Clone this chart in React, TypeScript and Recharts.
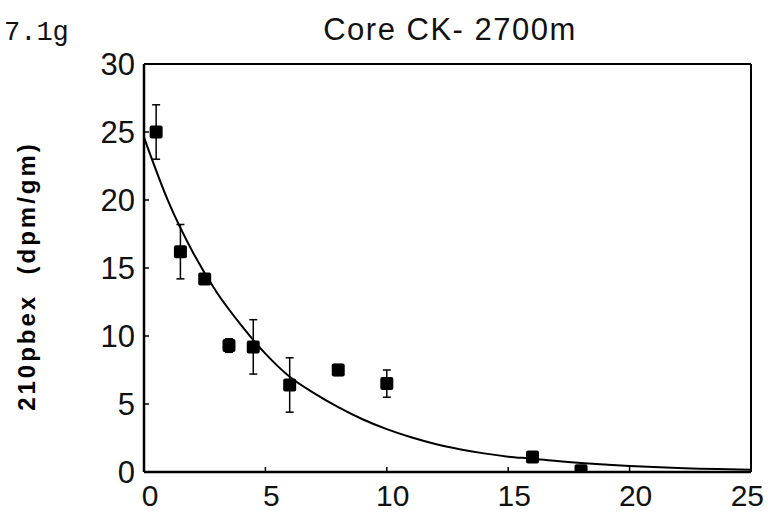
import { ComposedChart, Line, Scatter, ErrorBar, XAxis, YAxis, ReferenceLine } from 'recharts';

// measured points (depth cm, 210Pb excess dpm/gm)
const depth = [0.5, 1.5, 2.5, 3.5, 4.5, 6, 8, 10, 16, 18];
const activity = [25, 16.2, 14.2, 9.3, 9.2, 6.4, 7.5, 6.5, 1.1, 0.1];
const activityErr = [2, 2, 0.3, 0.5, 2, 2, 0.4, 1, 0, 0];

// fitted decay curve
const fitDepth = [0, 1, 2, 3, 4, 5, 6, 7, 8, 9, 10, 11, 12, 13, 14, 15, 16, 17, 18, 19, 20, 22, 25];
const fitActivity = [
  24.6, 19.9, 16.2, 13.2, 10.8, 8.7, 7.0, 5.8, 4.77, 3.88, 3.15, 2.55, 2.06, 1.68, 1.37, 1.13, 0.98, 0.8, 0.66, 0.55,
  0.45, 0.3, 0.17,
];

const xTicks = [0, 5, 10, 15, 20, 25];
const yTicks = [0, 5, 10, 15, 20, 25, 30];

const TICK_FONT = "'Liberation Sans', Arial, sans-serif";

const points = depth.map((x, i) => ({ x, y: activity[i], err: activityErr[i] }));
const fit = fitDepth.map((x, i) => ({ x, fit: fitActivity[i] }));

const Square = (props: any) => {
  const { cx, cy } = props;
  if (cx == null || cy == null) return null;
  return <rect x={cx - 6.5} y={cy - 6.5} width={13} height={13} rx={2} fill="#000" />;
};

// x labels sit a little right of their ticks in the original; the last one is kept inside the frame
const XTick = (props: any) => {
  const { x, y, payload } = props;
  const last = payload.value === xTicks[xTicks.length - 1];
  return (
    <text
      x={last ? x + 13 : x + 6}
      y={y}
      dy="0.71em"
      textAnchor={last ? 'end' : 'middle'}
      fontSize={30}
      fontFamily={TICK_FONT}
      fill="#111"
    >
      {payload.value}
    </text>
  );
};

const YLabel = () => (
  <text
    transform="translate(35, 276) rotate(-90)"
    textAnchor="middle"
    fontFamily={TICK_FONT}
    fontWeight="bold"
    fontSize={24}
    letterSpacing={3}
    fill="#000"
  >
    {'210pbex\u00a0\u00a0(dpm/gm)'}
  </text>
);

export default function App() {
  return (
    <div style={{ position: 'absolute', left: 0, top: 0, width: 768, height: 525, background: '#fff' }}>
      <div
        style={{
          position: 'absolute',
          left: 4,
          top: 18,
          fontFamily: "'Liberation Mono', monospace",
          fontSize: 27,
          color: '#111',
        }}
      >
        7.1g
      </div>
      <div
        style={{
          position: 'absolute',
          left: 250,
          width: 400,
          top: 12,
          textAlign: 'center',
          fontFamily: TICK_FONT,
          fontSize: 31,
          letterSpacing: 1.5,
          color: '#111',
        }}
      >
        Core CK- 2700m
      </div>
      <ComposedChart width={768} height={525} margin={{ top: 64, right: 17, bottom: 13, left: 74 }}>
        <XAxis
          dataKey="x"
          type="number"
          domain={[0, 25]}
          ticks={xTicks}
          allowDataOverflow
          height={40}
          tickSize={-5}
          tickMargin={18}
          tick={<XTick />}
          axisLine={{ stroke: '#000', strokeWidth: 2.5 }}
          tickLine={{ stroke: '#000', strokeWidth: 1.5 }}
        />
        <YAxis
          type="number"
          domain={[0, 30]}
          ticks={yTicks}
          allowDataOverflow
          width={70}
          tickSize={-5}
          tickMargin={14}
          tick={{ fontSize: 31, fill: '#111', fontFamily: TICK_FONT }}
          axisLine={{ stroke: '#000', strokeWidth: 2.5 }}
          tickLine={{ stroke: '#000', strokeWidth: 1.5 }}
          label={{ content: () => <YLabel /> }}
        />
        <ReferenceLine y={30} stroke="#000" strokeWidth={2} />
        <ReferenceLine x={25} stroke="#000" strokeWidth={2} />
        <Line
          data={fit}
          dataKey="fit"
          type="monotone"
          stroke="#000"
          strokeWidth={2}
          dot={false}
          activeDot={false}
          isAnimationActive={false}
        />
        <Scatter data={points} dataKey="y" shape={Square} isAnimationActive={false}>
          <ErrorBar dataKey="err" direction="y" width={4} stroke="#000" strokeWidth={1.5} />
        </Scatter>
      </ComposedChart>
    </div>
  );
}
